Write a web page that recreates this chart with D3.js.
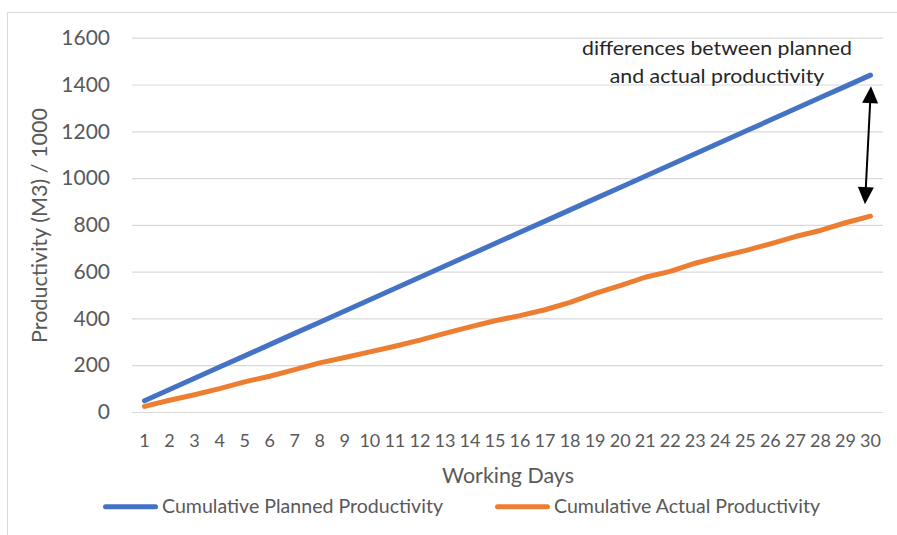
<!DOCTYPE html>
<html>
<head>
<meta charset="utf-8">
<script src="https://cdn.jsdelivr.net/npm/d3@7"></script>
<style>
  html, body { margin: 0; padding: 0; background: #fff; }
  svg { display: block; font-family: Lato, "Open Sans", sans-serif; }
</style>
</head>
<body>
<svg id="chart" width="897" height="535"></svg>
<script>
// ---- Data ----
const days = d3.range(1, 31);
const planned = [48, 96, 144, 192, 240, 288, 336, 384, 432, 480,
                 528, 576, 624, 672, 720, 768, 816, 864, 912, 960,
                 1008, 1056, 1104, 1152, 1200, 1248, 1296, 1344, 1392, 1440];
const actual = [24, 50, 74, 100, 129, 153, 181, 210, 233, 257,
                281, 307, 336, 364, 390, 412, 437, 469, 507, 540,
                576, 601, 636, 664, 690, 719, 750, 776, 809, 837];
const yTicks = [0, 200, 400, 600, 800, 1000, 1200, 1400, 1600];
const seriesNames = ["Cumulative Planned Productivity", "Cumulative Actual Productivity"];
const seriesColors = ["#4472C4", "#ED7D31"];
const xTitle = "Working Days";
const yTitle = "Productivity (M3) / 1000";
const noteLines = ["differences between planned", "and actual productivity"];

// ---- Layout ----
const svg = d3.select("#chart");
const plot = { left: 132, right: 883, top: 37.7, bottom: 412 };

// outer frame
svg.append("rect")
  .attr("x", 7.5).attr("y", 12.5).attr("width", 1000).attr("height", 1000)
  .attr("fill", "none").attr("stroke", "#d9d9d9").attr("stroke-width", 1);

const x = d3.scaleBand().domain(days).range([plot.left, plot.right]).padding(0);
const xc = d => x(d) + x.bandwidth() / 2;
const y = d3.scaleLinear().domain([0, 1600]).range([plot.bottom, plot.top]);

// gridlines + y labels via axis
const yAxis = d3.axisLeft(y).tickValues(yTicks).tickFormat(d3.format("d"))
  .tickSize(-(plot.right - plot.left)).tickPadding(22);
const gy = svg.append("g").attr("transform", `translate(${plot.left},0)`).call(yAxis);
gy.select(".domain").remove();
gy.selectAll(".tick line").attr("stroke", "#d9d9d9").attr("stroke-width", 1.2);
gy.selectAll(".tick text")
  .attr("fill", "#595959").attr("font-size", 21).attr("font-family", "Lato, 'Open Sans', sans-serif");

// x axis labels
const xAxis = d3.axisBottom(x).tickSize(0).tickPadding(0);
const gx = svg.append("g").attr("transform", `translate(0,${plot.bottom})`).call(xAxis);
gx.select(".domain").remove();
gx.selectAll(".tick text")
  .attr("fill", "#595959").attr("font-size", 18).attr("font-family", "Lato, 'Open Sans', sans-serif")
  .attr("dy", null).attr("y", 34.5);

// lines
const line = d3.line().x((d, i) => xc(days[i])).y(d => y(d));
[planned, actual].forEach((s, i) => {
  svg.append("path").datum(s)
    .attr("d", line)
    .attr("fill", "none")
    .attr("stroke", seriesColors[i])
    .attr("stroke-width", 5)
    .attr("stroke-linecap", "round")
    .attr("stroke-linejoin", "round");
});

// axis titles
svg.append("text")
  .attr("x", 508).attr("y", 483)
  .attr("text-anchor", "middle")
  .attr("font-size", 21).attr("fill", "#595959")
  .attr("textLength", 132).attr("lengthAdjust", "spacingAndGlyphs")
  .text(xTitle);

svg.append("text")
  .attr("transform", "translate(46.7,225.5) rotate(-90)")
  .attr("text-anchor", "middle")
  .attr("font-size", 21).attr("fill", "#595959")
  .attr("textLength", 235).attr("lengthAdjust", "spacingAndGlyphs")
  .text(yTitle);

// legend
const legendItems = [
  { x1: 103, x2: 158, tx: 162, tl: 281 },
  { x1: 495, x2: 550, tx: 554, tl: 266 }
];
legendItems.forEach((L, i) => {
  svg.append("line")
    .attr("x1", L.x1 + 2.5).attr("x2", L.x2 - 2.5)
    .attr("y1", 506.7).attr("y2", 506.7)
    .attr("stroke", seriesColors[i]).attr("stroke-width", 5).attr("stroke-linecap", "round");
  svg.append("text")
    .attr("x", L.tx).attr("y", 513.3)
    .attr("font-size", 18.5).attr("fill", "#595959")
    .attr("textLength", L.tl).attr("lengthAdjust", "spacingAndGlyphs")
    .text(seriesNames[i]);
});

// annotation text
const noteLens = [270, 214.6];
noteLines.forEach((t, i) => {
  svg.append("text")
    .attr("x", 717).attr("y", 55 + i * 27.7)
    .attr("text-anchor", "middle")
    .attr("font-size", 19).attr("fill", "#262626")
    .attr("textLength", noteLens[i]).attr("lengthAdjust", "spacingAndGlyphs")
    .text(t);
});

// double-headed arrow between the series at the last day
const lastDay = days[days.length - 1];
const ax1 = xc(lastDay) + 0.5, ay1 = y(planned[planned.length - 1]) + 11;
const ax2 = xc(lastDay) - 5.5, ay2 = y(actual[actual.length - 1]) - 12;
const ang = Math.atan2(ay2 - ay1, ax2 - ax1);
const headLen = 17, headHalf = 8;
function head(tx, ty, dirAng) {
  const bx = tx - headLen * Math.cos(dirAng), by = ty - headLen * Math.sin(dirAng);
  const px = -Math.sin(dirAng) * headHalf, py = Math.cos(dirAng) * headHalf;
  return [[tx, ty], [bx + px, by + py], [bx - px, by - py]];
}
svg.append("line")
  .attr("x1", ax1 + headLen * 0.8 * Math.cos(ang)).attr("y1", ay1 + headLen * 0.8 * Math.sin(ang))
  .attr("x2", ax2 - headLen * 0.8 * Math.cos(ang)).attr("y2", ay2 - headLen * 0.8 * Math.sin(ang))
  .attr("stroke", "#000").attr("stroke-width", 2);
svg.append("polygon").attr("points", head(ax1, ay1, ang + Math.PI).map(p => p.join(",")).join(" ")).attr("fill", "#000");
svg.append("polygon").attr("points", head(ax2, ay2, ang).map(p => p.join(",")).join(" ")).attr("fill", "#000");
</script>
</body>
</html>
